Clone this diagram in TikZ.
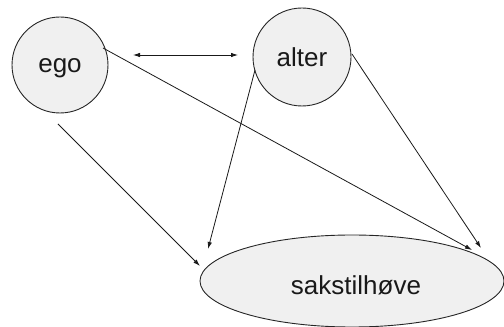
\documentclass[tikz,border=0pt]{standalone}
\usepackage{fontspec}
\setmainfont{Liberation Sans}
\usetikzlibrary{shapes.geometric,arrows.meta,calc}
\begin{document}
\begin{tikzpicture}[x=1pt,y=1pt,
  blob/.style={draw=black!85,line width=0.9pt,fill=black!6,inner sep=0pt},
  lbl/.style={font=\fontsize{26}{30}\selectfont,text=black!90},
  tip/.style={Latex[length=7pt,width=4.5pt]},
  conn/.style={draw=black!90,line width=0.8pt,-{Latex[length=7pt,width=4.5pt]}}]
\useasboundingbox (0,0) rectangle (504,327);
\clip (0,0) rectangle (504,327);
\node[blob,circle,minimum size=96pt] (ego) at (60,262) {};
\node[lbl] (egot) at (60,259) {ego};
\node[blob,circle,minimum size=98pt] (alter) at (302,270) {};
\node[lbl] (altert) at (302,270) {alter};
\node[blob,ellipse,minimum width=304pt,minimum height=92pt] (ell) at (352,46) {};
\node[lbl] (ellt) at (356,42) {sakstilhøve};
\draw[conn,{Latex[length=7pt,width=4.5pt]}-{Latex[length=7pt,width=4.5pt]}] ($(ego)+(73,10)$) -- ($(alter)+(-64,2)$);
\draw[conn] ($(ego)+(-2,-59)$) -- ($(ell)+(-152,15)$);
\draw[conn] ($(ego)+(43,17)$) -- ($(ell)+(120,31)$);
\draw[conn] ($(alter)+(-47,-13)$) -- ($(ell)+(-144,32)$);
\draw[conn] ($(alter)+(50,3)$) -- ($(ell)+(129,33)$);
\end{tikzpicture}
\end{document}
